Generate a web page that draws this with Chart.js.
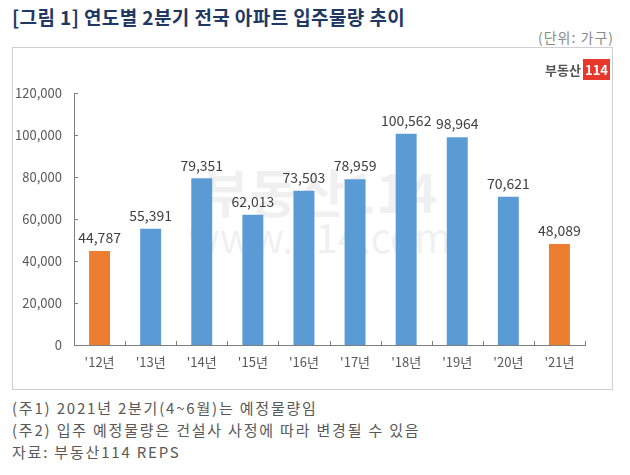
<!DOCTYPE html>
<html>
<head>
<meta charset="utf-8">
<script src="https://cdn.jsdelivr.net/npm/chart.js@4"></script>
<style>
  body { margin: 0; width: 630px; height: 475px; background: #fff; position: relative; overflow: hidden;
         font-family: "Noto Sans CJK KR", "Noto Sans", sans-serif; }
  #title { position: absolute; left: 12px; top: 3px; font-size: 19px; font-weight: bold; color: #1f3864; letter-spacing: 0.4px; }
  #unit { position: absolute; right: 16px; top: 27px; font-size: 14px; color: #8a8a8a; letter-spacing: 1px; }
  #box { position: absolute; left: 12px; top: 47px; width: 601px; height: 343px; border: 1px solid #cfcfcf; box-sizing: border-box; }
  #logo { position: absolute; right: 20px; top: 60px; font-size: 13px; font-weight: bold; color: #555; }
  #logo span { background: #e8372b; color: #fff; padding: 1px 2px; margin-left: 2px; }
  .note { position: absolute; left: 12px; font-size: 15px; color: #595959; letter-spacing: 1.8px; }
  canvas { position: absolute; left: 13px; top: 48px; }
</style>
</head>
<body>
<div id="title">[그림 1] 연도별 2분기 전국 아파트 입주물량 추이</div>
<div id="unit">(단위: 가구)</div>
<div id="box"></div>
<canvas id="chart" width="600" height="341"></canvas>
<div id="logo">부동산<span>114</span></div>
<div class="note" style="top:397px">(주1) 2021년 2분기(4~6월)는 예정물량임</div>
<div class="note" style="top:419px">(주2) 입주 예정물량은 건설사 사정에 따라 변경될 수 있음</div>
<div class="note" style="top:441px">자료: 부동산114 REPS</div>
<script>
const years = ["'12년", "'13년", "'14년", "'15년", "'16년", "'17년", "'18년", "'19년", "'20년", "'21년"];
const supply = [44787, 55391, 79351, 62013, 73503, 78959, 100562, 98964, 70621, 48089];
const barColors = ['#ed7d31', '#5b9bd5', '#5b9bd5', '#5b9bd5', '#5b9bd5', '#5b9bd5', '#5b9bd5', '#5b9bd5', '#5b9bd5', '#ed7d31'];
const yTicks = [0, 20000, 40000, 60000, 80000, 100000, 120000];

// 워터마크
const watermark = {
  id: 'watermark',
  beforeDatasetsDraw(chart) {
    const { ctx, chartArea } = chart;
    const cx = (chartArea.left + chartArea.right) / 2 - 10;
    ctx.save();
    ctx.fillStyle = 'rgba(0,0,0,0.06)';
    ctx.textAlign = 'center';
    ctx.font = 'bold 52px "Noto Sans CJK KR"';
    ctx.fillText('부동산114', cx, 165);
    ctx.font = '40px "Noto Sans CJK KR"';
    ctx.fillText('www.114.com', cx, 205);
    ctx.restore();
  }
};

// 안쪽 눈금 + 값 라벨
const extras = {
  id: 'extras',
  afterDatasetsDraw(chart) {
    const { ctx, scales: { x, y } } = chart;
    ctx.save();
    ctx.strokeStyle = '#7f7f7f';
    ctx.lineWidth = 1;
    ctx.beginPath();
    yTicks.forEach(v => {
      const py = Math.round(y.getPixelForValue(v)) + 0.5;
      ctx.moveTo(x.left, py);
      ctx.lineTo(x.left + 4, py);
    });
    const w = (x.right - x.left) / years.length;
    for (let i = 1; i <= years.length; i++) {
      const px = Math.round(x.left + w * i) + 0.5;
      ctx.moveTo(px, y.bottom);
      ctx.lineTo(px, y.bottom - 4);
    }
    ctx.stroke();

    ctx.fillStyle = '#404040';
    ctx.font = '14px "Noto Sans CJK KR"';
    ctx.textAlign = 'center';
    ctx.textBaseline = 'bottom';
    chart.getDatasetMeta(0).data.forEach((bar, i) => {
      ctx.fillText(supply[i].toLocaleString('en-US'), bar.x, bar.y - 6);
    });
    ctx.restore();
  }
};

new Chart(document.getElementById('chart'), {
  type: 'bar',
  data: {
    labels: years,
    datasets: [{
      data: supply,
      backgroundColor: barColors,
      barPercentage: 0.82,
      categoryPercentage: 0.5
    }]
  },
  options: {
    responsive: false,
    animation: false,
    layout: { padding: { top: 45, right: 28, left: 0, bottom: 0 } },
    plugins: { legend: { display: false }, tooltip: { enabled: false } },
    scales: {
      x: {
        grid: { display: false, drawTicks: false },
        border: { color: '#7f7f7f' },
        ticks: { color: '#595959', font: { size: 13, family: 'Noto Sans CJK KR' }, padding: 9 },
        afterFit(scale) { scale.height = 44; }
      },
      y: {
        min: 0,
        max: 120000,
        grid: { display: false, drawTicks: false },
        border: { color: '#7f7f7f' },
        afterBuildTicks(scale) { scale.ticks = yTicks.map(v => ({ value: v })); },
        ticks: {
          color: '#595959',
          font: { size: 13, family: 'Noto Sans CJK KR' },
          padding: 12,
          callback: v => v.toLocaleString('en-US')
        },
        afterFit(scale) { scale.width = 61; }
      }
    }
  },
  plugins: [watermark, extras]
});
</script>
</body>
</html>
